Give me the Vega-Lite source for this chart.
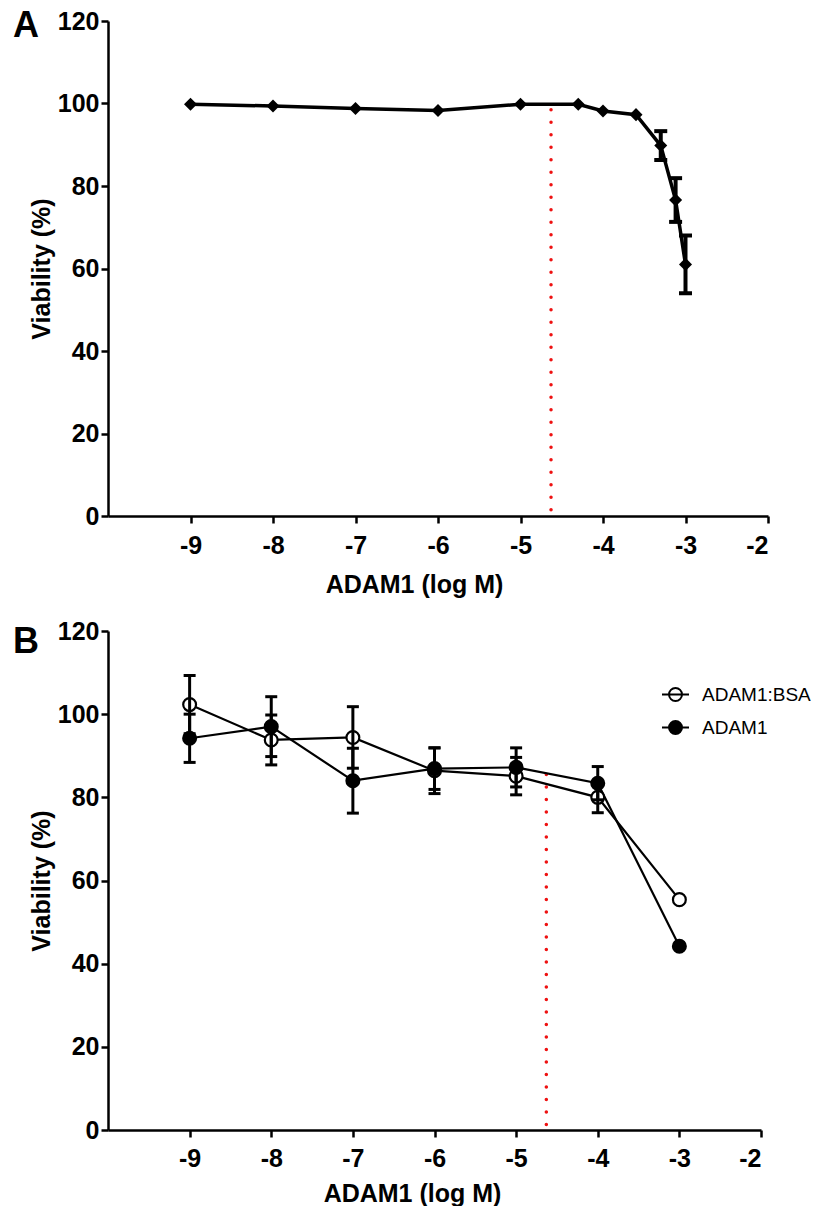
{
  "$schema": "https://vega.github.io/schema/vega-lite/v6.json",
  "background": "white",
  "padding": {"left": 13, "top": 8, "right": 0, "bottom": 0},
  "spacing": 22,
  "resolve": {"legend": {"fill": "independent"}},
  "config": {
    "view": {"stroke": null},
    "font": "Liberation Sans",
    "axis": {
      "grid": false,
      "domainColor": "black",
      "domainWidth": 2.5,
      "tickColor": "black",
      "tickWidth": 2.5,
      "tickSize": 7,
      "labelFont": "Liberation Sans",
      "labelFontSize": 25,
      "labelFontWeight": "bold",
      "labelColor": "black",
      "titleFont": "Liberation Sans",
      "titleFontSize": 25,
      "titleFontWeight": "bold",
      "titleColor": "black"
    },
    "legend": {
      "labelFont": "Liberation Sans",
      "labelFontSize": 19,
      "labelColor": "black",
      "symbolStrokeColor": "black",
      "symbolStrokeWidth": 2,
      "symbolOpacity": 1
    }
  },
  "datasets": {
    "a": [
      {"logM": -9, "viability": 99.8, "err": 0},
      {"logM": -8, "viability": 99.4, "err": 0},
      {"logM": -7, "viability": 98.8, "err": 0},
      {"logM": -6, "viability": 98.3, "err": 0},
      {"logM": -5, "viability": 99.8, "err": 0},
      {"logM": -4.3, "viability": 99.8, "err": 0},
      {"logM": -4.0, "viability": 98.2, "err": 0},
      {"logM": -3.6, "viability": 97.3, "err": 0},
      {"logM": -3.3, "viability": 89.8, "err": 3.5},
      {"logM": -3.12, "viability": 76.6, "err": 5.3},
      {"logM": -3.0, "viability": 61.0, "err": 7.0}
    ],
    "b": [
      {"series": "ADAM1:BSA", "logM": -9, "viability": 102.3, "err": 7.0},
      {"series": "ADAM1:BSA", "logM": -8, "viability": 93.8, "err": 6.0},
      {"series": "ADAM1:BSA", "logM": -7, "viability": 94.4, "err": 7.4},
      {"series": "ADAM1:BSA", "logM": -6, "viability": 86.4, "err": 5.5},
      {"series": "ADAM1:BSA", "logM": -5, "viability": 85.1, "err": 4.5},
      {"series": "ADAM1:BSA", "logM": -4, "viability": 80.0, "err": 3.7},
      {"series": "ADAM1:BSA", "logM": -3, "viability": 55.4, "err": 0},
      {"series": "ADAM1", "logM": -9, "viability": 94.2, "err": 5.8},
      {"series": "ADAM1", "logM": -8, "viability": 97.0, "err": 7.2},
      {"series": "ADAM1", "logM": -7, "viability": 84.0, "err": 7.8},
      {"series": "ADAM1", "logM": -6, "viability": 86.9, "err": 5.0},
      {"series": "ADAM1", "logM": -5, "viability": 87.2, "err": 4.7},
      {"series": "ADAM1", "logM": -4, "viability": 83.4, "err": 4.0},
      {"series": "ADAM1", "logM": -3, "viability": 44.2, "err": 0}
    ],
    "ic_a": [{"logM": -4.63, "top": 98.5, "bottom": 0}],
    "ic_b": [{"logM": -4.63, "top": 85.5, "bottom": 0}],
    "lab_a": [{"panel": "A"}],
    "lab_b": [{"panel": "B"}]
  },
  "vconcat": [
    {
      "width": 660,
      "height": 495,
      "layer": [
        {
          "data": {"name": "ic_a"},
          "mark": {"type": "rule", "color": "#ee1111", "strokeWidth": 3.5, "strokeDash": [0.1, 12.4], "strokeCap": "round"},
          "encoding": {
            "x": {"field": "logM", "type": "quantitative", "title": "ADAM1 (log M)"},
            "y": {"field": "top", "type": "quantitative", "title": "Viability (%)"},
            "y2": {"field": "bottom"}
          }
        },
        {
          "data": {"name": "a"},
          "mark": {"type": "line", "color": "black", "strokeWidth": 3.5},
          "encoding": {
            "x": {"field": "logM", "type": "quantitative", "title": "ADAM1 (log M)", "scale": {"domain": [-10, -2], "nice": false, "zero": false},
              "axis": {"values": [-9, -8, -7, -6, -5, -4, -3, -2], "labelExpr": "datum.value + ''", "labelPadding": 10, "titlePadding": 14, "titleX": 306, "titleAnchor": "middle"}},
            "y": {"field": "viability", "type": "quantitative", "title": "Viability (%)", "scale": {"domain": [0, 120], "nice": false},
              "axis": {"values": [0, 20, 40, 60, 80, 100, 120], "labelExpr": "datum.value + ''", "labelPadding": 2, "titlePadding": 3}}
          }
        },
        {
          "data": {"name": "a"},
          "mark": {"type": "point", "shape": "diamond", "filled": true, "color": "black", "size": 170, "opacity": 1},
          "encoding": {
            "x": {"field": "logM", "type": "quantitative", "title": "ADAM1 (log M)"},
            "y": {"field": "viability", "type": "quantitative", "title": "Viability (%)"}
          }
        },
        {
          "data": {"name": "a"},
          "transform": [{"filter": "datum.err > 0"}],
          "mark": {"type": "errorbar", "ticks": {"opacity": 1, "color": "black"}, "rule": {"opacity": 1, "color": "black"}, "size": 13, "thickness": 4, "color": "black"},
          "encoding": {
            "x": {"field": "logM", "type": "quantitative", "title": "ADAM1 (log M)"},
            "y": {"field": "viability", "type": "quantitative", "title": "Viability (%)"},
            "yError": {"field": "err"}
          }
        },
        {
          "data": {"name": "lab_a"},
          "mark": {"type": "text", "fontSize": 36, "fontWeight": "bold", "font": "Liberation Sans", "color": "black", "align": "center", "baseline": "middle", "dx": -82, "dy": 5},
          "encoding": {
            "text": {"field": "panel"},
            "x": {"datum": -10},
            "y": {"datum": 120}
          }
        }
      ]
    },
    {
      "width": 653,
      "height": 499,
      "layer": [
        {
          "data": {"name": "ic_b"},
          "mark": {"type": "rule", "color": "#ee1111", "strokeWidth": 3.5, "strokeDash": [0.1, 12.4], "strokeCap": "round"},
          "encoding": {
            "x": {"field": "logM", "type": "quantitative", "title": "ADAM1 (log M)"},
            "y": {"field": "top", "type": "quantitative", "title": "Viability (%)"},
            "y2": {"field": "bottom"}
          }
        },
        {
          "data": {"name": "b"},
          "mark": {"type": "line", "color": "black", "strokeWidth": 2.2},
          "encoding": {
            "x": {"field": "logM", "type": "quantitative", "title": "ADAM1 (log M)", "scale": {"domain": [-10, -2], "nice": false, "zero": false},
              "axis": {"values": [-9, -8, -7, -6, -5, -4, -3, -2], "labelExpr": "datum.value + ''", "labelPadding": 9, "titlePadding": 10, "titleX": 304, "titleAnchor": "middle"}},
            "y": {"field": "viability", "type": "quantitative", "title": "Viability (%)", "scale": {"domain": [0, 120], "nice": false},
              "axis": {"values": [0, 20, 40, 60, 80, 100, 120], "labelExpr": "datum.value + ''", "labelPadding": 2, "titlePadding": 3}},
            "detail": {"field": "series"}
          }
        },
        {
          "data": {"name": "b"},
          "mark": {"type": "point", "shape": "circle", "size": 165, "stroke": "black", "strokeWidth": 2.2, "opacity": 1, "fillOpacity": 1},
          "encoding": {
            "x": {"field": "logM", "type": "quantitative", "title": "ADAM1 (log M)"},
            "y": {"field": "viability", "type": "quantitative", "title": "Viability (%)"},
            "fill": {"field": "series", "type": "nominal",
              "scale": {"domain": ["ADAM1:BSA", "ADAM1"], "range": ["white", "black"]},
              "legend": {"title": null, "orient": "none", "legendX": 553, "legendY": 49, "symbolType": "M-1,0L1,0M0.48,0A0.48,0.48,0,1,1,-0.48,0A0.48,0.48,0,1,1,0.48,0Z", "symbolSize": 729, "rowPadding": 8, "labelOffset": 12}}
          }
        },
        {
          "data": {"name": "b"},
          "transform": [{"filter": "datum.err > 0"}],
          "mark": {"type": "errorbar", "ticks": {"opacity": 1, "color": "black"}, "rule": {"opacity": 1, "color": "black"}, "size": 12, "thickness": 3, "color": "black"},
          "encoding": {
            "x": {"field": "logM", "type": "quantitative", "title": "ADAM1 (log M)"},
            "y": {"field": "viability", "type": "quantitative", "title": "Viability (%)"},
            "yError": {"field": "err"}
          }
        },
        {
          "data": {"name": "lab_b"},
          "mark": {"type": "text", "fontSize": 36, "fontWeight": "bold", "font": "Liberation Sans", "color": "black", "align": "center", "baseline": "middle", "dx": -82, "dy": 11},
          "encoding": {
            "text": {"field": "panel"},
            "x": {"datum": -10},
            "y": {"datum": 120}
          }
        }
      ]
    }
  ]
}
